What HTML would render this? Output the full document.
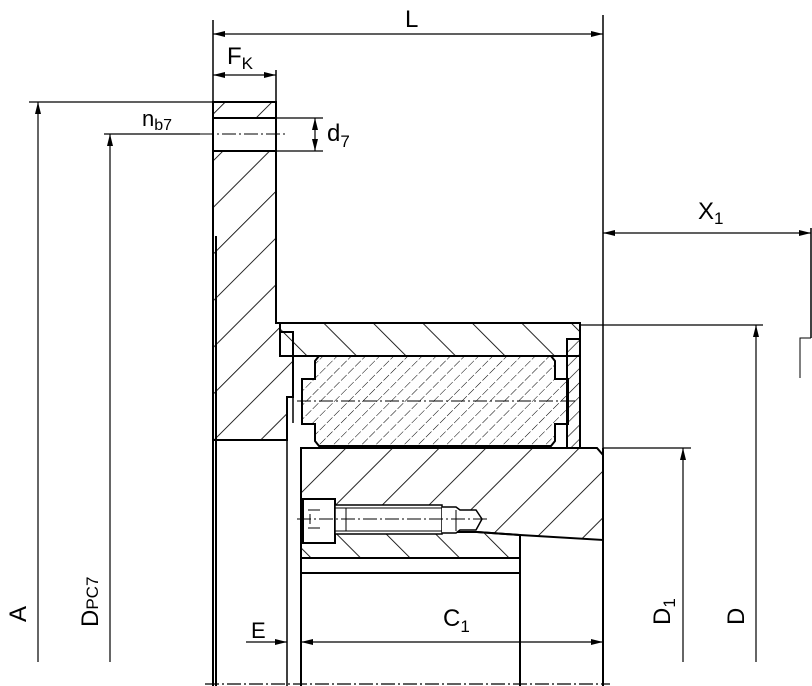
<!DOCTYPE html>
<html><head><meta charset="utf-8"><style>
html,body{margin:0;padding:0;background:#fff;}
svg{display:block;}
text{font-family:"Liberation Sans",sans-serif;fill:#000;}
</style></head><body>
<svg width="812" height="686" viewBox="0 0 812 686" xmlns="http://www.w3.org/2000/svg">
<defs>
<pattern id="hf" patternUnits="userSpaceOnUse" width="33" height="33" patternTransform="rotate(45)"><line x1="0" y1="0" x2="0" y2="33" stroke="#000" stroke-width="1.7"/></pattern>
<pattern id="hb" patternUnits="userSpaceOnUse" width="35" height="35" patternTransform="rotate(-45)"><line x1="0" y1="0" x2="0" y2="35" stroke="#000" stroke-width="1.7"/></pattern>
<pattern id="hs" patternUnits="userSpaceOnUse" width="10" height="10" patternTransform="rotate(45)"><line x1="0" y1="0" x2="0" y2="10" stroke="#000" stroke-width="1" stroke-dasharray="8 3"/></pattern>
<pattern id="hn" patternUnits="userSpaceOnUse" width="10" height="10" patternTransform="rotate(45)"><line x1="0" y1="0" x2="0" y2="10" stroke="#000" stroke-width="1.2"/></pattern>
<marker id="a" viewBox="0 0 12 6" refX="12" refY="3" markerWidth="12" markerHeight="6" markerUnits="userSpaceOnUse" orient="auto-start-reverse"><path d="M0,0 L12,3 L0,6 z" fill="#000"/></marker>
</defs>

<!-- flange -->
<path d="M213,102 H276 V118 H213 Z" fill="url(#hf)" stroke="#000" stroke-width="2"/>
<path d="M213,151 H276 V323 H280 V332 H293 V397 H287 V440 H213 Z" fill="url(#hf)" stroke="#000" stroke-width="2"/>
<line x1="213" y1="118" x2="213" y2="151" stroke="#000" stroke-width="2"/>
<line x1="276" y1="118" x2="276" y2="151" stroke="#000" stroke-width="2"/>
<line x1="216" y1="236" x2="216" y2="686" stroke="#000" stroke-width="2"/>
<line x1="213" y1="416" x2="213" y2="686" stroke="#000" stroke-width="2"/>
<line x1="287" y1="397" x2="287" y2="686" stroke="#000" stroke-width="1.5"/>
<line x1="293" y1="397" x2="293" y2="423" stroke="#000" stroke-width="1.5"/>

<!-- outer ring -->
<path d="M280,323 H580 V356 H280 Z" fill="url(#hb)" stroke="#000" stroke-width="2"/>
<line x1="293" y1="332" x2="293" y2="356" stroke="#000" stroke-width="1.5"/>
<!-- sprag body -->
<path d="M319,356 H551 L555,361 V379 H568 V424 H555 V441 L551,446 H319 L315,441 V424 H302 V379 H315 V361 Z" fill="url(#hs)" stroke="#000" stroke-width="2"/>
<!-- end plate -->
<rect x="567" y="339" width="13" height="109" fill="url(#hn)" stroke="#000" stroke-width="2"/>
<line x1="580" y1="325" x2="580" y2="448" stroke="#000" stroke-width="1.5"/>

<!-- inner race -->
<path d="M301,448 H597 L603,455 V540 L520,535 L477,532 H301 Z" fill="url(#hf)" stroke="#000" stroke-width="2"/>
<path d="M301,532 H477 L520,535 V558 H301 Z" fill="url(#hb)" stroke="#000" stroke-width="2"/>
<line x1="301" y1="448" x2="301" y2="686" stroke="#000" stroke-width="2"/>
<line x1="301" y1="573" x2="520" y2="573" stroke="#000" stroke-width="2"/>
<line x1="520" y1="535" x2="520" y2="686" stroke="#000" stroke-width="2"/>
<line x1="603" y1="15" x2="603" y2="686" stroke="#000" stroke-width="1.5"/>
<line x1="603" y1="448" x2="603" y2="686" stroke="#000" stroke-width="2"/>

<!-- bolt -->
<rect x="303" y="499" width="32" height="44" fill="#fff" stroke="#000" stroke-width="2"/>
<path d="M335,505 H442 V534 H335 Z" fill="#fff" stroke="#000" stroke-width="1.5"/>
<path d="M335,508 H442 M335,531 H442 M346,508 V531" stroke="#000" stroke-width="1" fill="none"/>
<path d="M442,507 H456 L460,510 H476 L482,519 L476,530 H460 L456,533 H442" fill="#fff" stroke="#000" stroke-width="1.5"/>
<line x1="456" y1="510" x2="456" y2="531" stroke="#000" stroke-width="1"/>
<path d="M308,510 H320 M308,528 H320 M310,514 V524" stroke="#000" stroke-width="1" fill="none"/>

<!-- center lines -->
<line x1="297" y1="519" x2="490" y2="519" stroke="#000" stroke-width="1" stroke-dasharray="14 3 2 3"/>
<line x1="297" y1="401" x2="575" y2="401" stroke="#000" stroke-width="1" stroke-dasharray="14 3 2 3"/>
<line x1="205" y1="684" x2="610" y2="684" stroke="#000" stroke-width="1.2" stroke-dasharray="14 3 2 3"/>
<line x1="200" y1="134" x2="286" y2="134" stroke="#000" stroke-width="1" stroke-dasharray="14 3 2 3"/>

<!-- L -->
<line x1="213" y1="20" x2="213" y2="102" stroke="#000" stroke-width="1.5"/>
<line x1="213" y1="34" x2="603" y2="34" stroke="#000" stroke-width="1.2" marker-start="url(#a)" marker-end="url(#a)"/>
<text x="405" y="27" font-size="24">L</text>
<!-- FK -->
<line x1="276" y1="70" x2="276" y2="102" stroke="#000" stroke-width="1.5"/>
<line x1="213" y1="75" x2="276" y2="75" stroke="#000" stroke-width="1.2" marker-start="url(#a)" marker-end="url(#a)"/>
<text x="227" y="64" font-size="24">F<tspan font-size="17" dy="5">K</tspan></text>
<!-- d7 -->
<line x1="276" y1="118" x2="323" y2="118" stroke="#000" stroke-width="1.2"/>
<line x1="276" y1="151" x2="323" y2="151" stroke="#000" stroke-width="1.2"/>
<line x1="315" y1="118" x2="315" y2="151" stroke="#000" stroke-width="1.2" marker-start="url(#a)" marker-end="url(#a)"/>
<text x="327" y="141" font-size="24">d<tspan font-size="17" dy="6">7</tspan></text>
<!-- A -->
<line x1="29" y1="102" x2="213" y2="102" stroke="#000" stroke-width="1.2"/>
<line x1="38" y1="662" x2="38" y2="102" stroke="#000" stroke-width="1.2" marker-end="url(#a)"/>
<text transform="translate(26,622) rotate(-90)" font-size="24">A</text>
<!-- DPC7 -->
<line x1="104" y1="134" x2="200" y2="134" stroke="#000" stroke-width="1.2"/>
<line x1="110" y1="662" x2="110" y2="134" stroke="#000" stroke-width="1.2" marker-end="url(#a)"/>
<text transform="translate(98,627) rotate(-90)" font-size="24">D<tspan font-size="17">PC7</tspan></text>
<text x="142" y="126" font-size="22">n<tspan font-size="16" dy="4">b7</tspan></text>
<!-- X1 -->
<line x1="603" y1="233" x2="811" y2="233" stroke="#000" stroke-width="1.2" marker-start="url(#a)" marker-end="url(#a)"/>
<line x1="811" y1="228" x2="811" y2="338" stroke="#000" stroke-width="1.5"/>
<path d="M811,338 H800 V378" stroke="#000" stroke-width="1" fill="none"/>
<text x="698" y="219" font-size="24">X<tspan font-size="17" dy="5">1</tspan></text>
<!-- D -->
<line x1="580" y1="325" x2="763" y2="325" stroke="#000" stroke-width="1.2"/>
<line x1="756" y1="662" x2="756" y2="325" stroke="#000" stroke-width="1.2" marker-end="url(#a)"/>
<text transform="translate(744,625) rotate(-90)" font-size="24">D</text>
<!-- D1 -->
<line x1="603" y1="448" x2="691" y2="448" stroke="#000" stroke-width="1.2"/>
<line x1="683" y1="662" x2="683" y2="448" stroke="#000" stroke-width="1.2" marker-end="url(#a)"/>
<text transform="translate(670,625) rotate(-90)" font-size="24">D<tspan font-size="17" dy="5">1</tspan></text>
<!-- E -->
<line x1="246" y1="642" x2="287" y2="642" stroke="#000" stroke-width="1.2" marker-end="url(#a)"/>
<text x="251" y="638" font-size="22">E</text>
<!-- C1 -->
<line x1="301" y1="642" x2="603" y2="642" stroke="#000" stroke-width="1.2" marker-start="url(#a)" marker-end="url(#a)"/>
<text x="443" y="626" font-size="24">C<tspan font-size="17" dy="6">1</tspan></text>
</svg>
</body></html>
